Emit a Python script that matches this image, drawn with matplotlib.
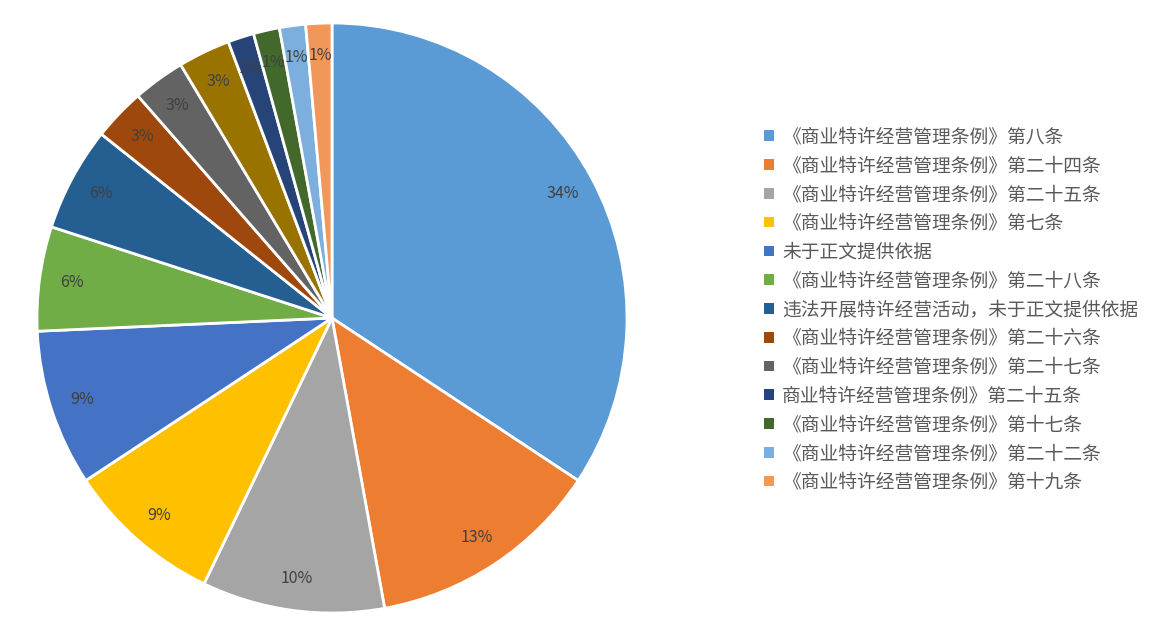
import matplotlib
matplotlib.use('Agg')
import matplotlib.pyplot as plt

plt.rcParams['font.family'] = ['Noto Sans CJK SC', 'DejaVu Sans']

# categories (the 10th slice has no name in the legend of the original)
categories = [
    '《商业特许经营管理条例》第八条',
    '《商业特许经营管理条例》第二十四条',
    '《商业特许经营管理条例》第二十五条',
    '《商业特许经营管理条例》第七条',
    '未于正文提供依据',
    '《商业特许经营管理条例》第二十八条',
    '违法开展特许经营活动，未于正文提供依据',
    '《商业特许经营管理条例》第二十六条',
    '《商业特许经营管理条例》第二十七条',
    '',
    '商业特许经营管理条例》第二十五条',
    '《商业特许经营管理条例》第十七条',
    '《商业特许经营管理条例》第二十二条',
    '《商业特许经营管理条例》第十九条',
]
counts = [24, 9, 7, 6, 6, 4, 4, 2, 2, 2, 1, 1, 1, 1]
colors = ['#5B9BD5', '#ED7D31', '#A5A5A5', '#FFC000', '#4472C4', '#70AD47',
          '#255E91', '#9E480E', '#636363', '#997300', '#264478', '#43682B',
          '#7CAFDD', '#F1975A']

W, H = 1149, 630
fig = plt.figure(figsize=(W / 100, H / 100), dpi=100)
cx, cy, r = 332, 318, 295
ax = fig.add_axes([(cx - r) / W, (H - cy - r) / H, 2 * r / W, 2 * r / H])

wedges, texts, autotexts = ax.pie(
    counts, colors=colors, startangle=90, counterclock=False,
    autopct=lambda p: '%.0f%%' % p, pctdistance=0.89,
    wedgeprops=dict(edgecolor='white', linewidth=2),
    textprops=dict(color='#404040', fontsize=11.5))
ax.set_xlim(-1.0, 1.0)
ax.set_ylim(-1.0, 1.0)
ax.set_aspect('equal')

handles = [w for w, c in zip(wedges, categories) if c]
labels = [c for c in categories if c]
leg = fig.legend(handles, labels, loc='upper left',
                 bbox_to_anchor=(755 / W, 1 - 117 / H), frameon=False,
                 fontsize=13.5, labelcolor='#595959',
                 handlelength=0.5, handleheight=0.5, handletextpad=0.45,
                 labelspacing=0.415, borderpad=0)
for h in leg.legend_handles:
    h.set_edgecolor('none')

fig.savefig('out.png', dpi=100)
